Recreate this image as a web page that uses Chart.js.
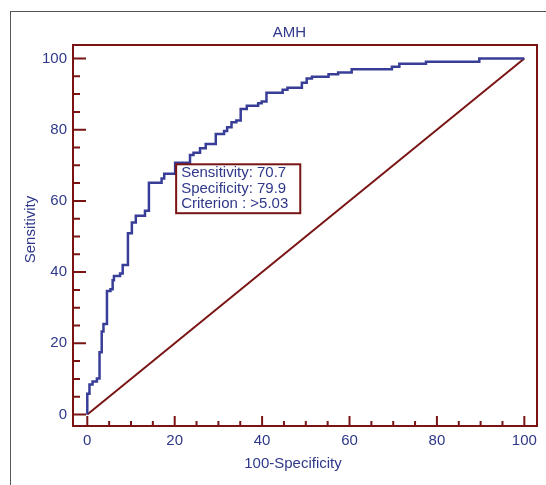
<!DOCTYPE html>
<html>
<head>
<meta charset="utf-8">
<title>AMH ROC curve</title>
<script src="https://cdn.jsdelivr.net/npm/chart.js@4.4.1/dist/chart.umd.min.js"></script>
<style>
    html, body { margin: 0; padding: 0; background: #fff; overflow: hidden; }
    #wrap { position: relative; width: 546px; height: 485px; overflow: hidden; }
    #frame {
        position: absolute; left: 10px; top: 11px; width: 600px; height: 600px;
        border-left: 1.5px solid #555; border-top: 1.5px solid #555;
    }
    #roc { position: absolute; left: 0; top: 0; }
</style>
</head>
<body>
<div id="wrap">
    <div id="frame"></div>
    <canvas id="roc" width="546" height="485"></canvas>
</div>
<script>
// ROC curve points: 100-Specificity (x) and Sensitivity (y)
const fprValues = [0, 0, 0.5, 1.2, 2.2, 2.8, 3.3, 3.7, 4.5, 5.3,
    5.8, 6.1, 7.5, 8.1, 9.3, 10.2, 11.1, 13.2, 14.1, 17.0,
    17.6, 20.1, 23.5, 24.3, 25.8, 27.1, 29.4, 31.3, 32.0, 33.0,
    34.1, 35.1, 36.5, 39.1, 39.9, 41.0, 44.7, 45.8, 49.1, 50.2,
    51.4, 55.2, 57.4, 60.5, 69.7, 71.4, 77.5, 89.7, 100];
const sensValues = [0, 5.8, 8.4, 9.3, 10.1, 17.5, 23.3, 25.4, 34.7, 35.2,
    37.7, 38.9, 39.6, 42.0, 50.9, 53.9, 55.8, 57.2, 65.1, 66.3,
    67.6, 70.7, 72.9, 73.5, 74.8, 76.0, 78.8, 79.6, 80.7, 82.1,
    82.6, 85.8, 86.7, 87.4, 87.9, 90.4, 91.2, 91.8, 93.2, 94.4,
    94.9, 95.6, 96.1, 97.0, 97.7, 98.5, 99.1, 100, 100];

// reference (chance) line
const diagX = [0, 100];
const diagY = [0, 100];

// tick labels
const xTicks = [0, 20, 40, 60, 80, 100];
const yTicks = [0, 20, 40, 60, 80, 100];

// optimal criterion
const criterionSens = 70.7;
const criterionSpec = 79.9;
const criterionLabel = '>5.03';

const NAVY = '#2f3889';
const CURVE = '#383e98';
const DARK_RED = '#7a1414';
const FONT = '"Liberation Sans", Arial, sans-serif';

// 프레임, 안쪽 눈금, 제목, 기준점 상자
const rocDecor = {
    id: 'rocDecor',
    afterDraw(chart) {
        const { ctx, chartArea: a, scales } = chart;
        const xs = scales.x, ys = scales.y;
        ctx.save();

        // 눈금 (major 20, minor 5)
        ctx.strokeStyle = DARK_RED;
        ctx.lineWidth = 2;
        ctx.beginPath();
        for (let v = 0; v <= 100; v += 5) {
            const major = v % 20 === 0;
            const py = ys.getPixelForValue(v);
            ctx.moveTo(a.left, py);
            ctx.lineTo(a.left + (major ? 13 : 7), py);
            const px = xs.getPixelForValue(v);
            ctx.moveTo(px, a.bottom);
            ctx.lineTo(px, a.bottom - (major ? 10 : 5));
        }
        ctx.stroke();

        // 플롯 테두리
        ctx.strokeRect(a.left, a.top, a.right - a.left, a.bottom - a.top);

        // 제목과 축 제목
        ctx.fillStyle = NAVY;
        ctx.font = '15px ' + FONT;
        ctx.textAlign = 'center';
        ctx.textBaseline = 'middle';
        ctx.fillText('AMH', (a.left + a.right) / 2 - 15.5, 33);
        ctx.fillText('100-Specificity', (a.left + a.right) / 2 - 12, 463.5);
        ctx.save();
        ctx.translate(30.5, (a.top + a.bottom) / 2 - 6);
        ctx.rotate(-Math.PI / 2);
        ctx.fillText('Sensitivity', 0, 0);
        ctx.restore();

        // 기준점 상자
        const lines = [
            'Sensitivity: ' + criterionSens,
            'Specificity: ' + criterionSpec,
            'Criterion : ' + criterionLabel
        ];
        const bx = xs.getPixelForValue(100 - criterionSpec) + 1;
        const by = ys.getPixelForValue(criterionSens) + 1.5;
        const tw = Math.max(...lines.map(t => ctx.measureText(t).width));
        const bw = tw + 17;
        const lh = 15.3;
        const bh = lines.length * lh + 3;
        ctx.fillStyle = '#fff';
        ctx.fillRect(bx, by, bw, bh);
        ctx.strokeStyle = DARK_RED;
        ctx.lineWidth = 2;
        ctx.strokeRect(bx, by, bw, bh);
        ctx.fillStyle = NAVY;
        ctx.textAlign = 'left';
        lines.forEach((t, i) => ctx.fillText(t, bx + 5, by + 9 + i * lh));

        ctx.restore();
    }
};

const tickFont = { family: FONT, size: 15 };

new Chart(document.getElementById('roc'), {
    type: 'scatter',
    data: {
        datasets: [{
            label: 'AMH',
            data: fprValues.map((x, i) => ({ x: x, y: sensValues[i] })),
            showLine: true,
            stepped: true,
            borderColor: CURVE,
            borderWidth: 2.5,
            pointRadius: 0,
            fill: false
        }, {
            label: 'Reference',
            data: diagX.map((x, i) => ({ x: x, y: diagY[i] })),
            showLine: true,
            borderColor: DARK_RED,
            borderWidth: 2,
            pointRadius: 0,
            fill: false
        }]
    },
    options: {
        responsive: false,
        animation: false,
        events: [],
        layout: { padding: { left: 0, top: 45, right: 9, bottom: 0 } },
        plugins: {
            legend: { display: false },
            tooltip: { enabled: false },
            title: { display: false }
        },
        scales: {
            x: {
                type: 'linear',
                min: -3.27,
                max: 102.9,
                afterBuildTicks: s => { s.ticks = xTicks.map(v => ({ value: v })); },
                afterFit: s => { s.height = 59; },
                grid: { display: false, drawTicks: false },
                border: { display: false },
                ticks: { color: NAVY, font: tickFont, padding: 6, maxRotation: 0 }
            },
            y: {
                type: 'linear',
                min: -3.23,
                max: 103.79,
                afterBuildTicks: s => { s.ticks = yTicks.map(v => ({ value: v })); },
                afterFit: s => { s.width = 73; },
                grid: { display: false, drawTicks: false },
                border: { display: false },
                ticks: { color: NAVY, font: tickFont, padding: 6 }
            }
        }
    },
    plugins: [rocDecor]
});
</script>
</body>
</html>
